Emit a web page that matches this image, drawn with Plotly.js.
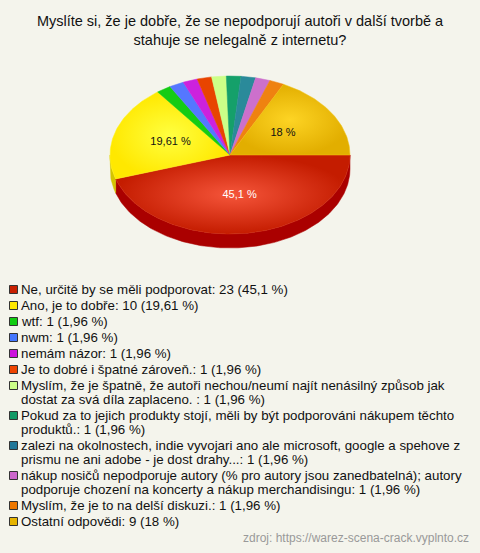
<!DOCTYPE html>
<html><head><meta charset="utf-8">
<script src="https://cdn.plot.ly/plotly-3.0.1.min.js"></script>
<style>
html,body{margin:0;padding:0;background:#f4f4ec;}
#chart{width:480px;height:553px;outline:1px solid #333;outline-offset:-1px;}
</style>
</head><body><div id="chart"></div>
<script>
const titleText = 'Myslíte si, že je dobře, že se nepodporují autoři v další tvorbě a<br>stahuje se nelegalně z internetu?';
const categories = [
  'Ne, určitě by se měli podporovat',
  'Ano, je to dobře',
  'wtf',
  'nwm',
  'nemám názor',
  'Je to dobré i špatné zároveň.',
  'Myslím, že je špatně, že autoři nechou/neumí najít nenásilný způsob jak<br>dostat za svá díla zaplaceno. ',
  'Pokud za to jejich produkty stojí, měli by být podporováni nákupem těchto<br>produktů.',
  'zalezi na okolnostech, indie vyvojari ano ale microsoft, google a spehove z<br>prismu ne ani adobe - je dost drahy...',
  'nákup nosičů nepodporuje autory (% pro autory jsou zanedbatelná); autory<br>podporuje chození na koncerty a nákup merchandisingu',
  'Myslím, že je to na delší diskuzi.',
  'Ostatní odpovědi'
];
const counts = [23, 10, 1, 1, 1, 1, 1, 1, 1, 1, 1, 9];
const percentLabels = ['45,1', '19,61', '1,96', '1,96', '1,96', '1,96', '1,96', '1,96', '1,96', '1,96', '1,96', '18'];
const sourceText = 'zdroj: https://warez-scena-crack.vyplnto.cz';

// styles
const topColors = ['#d42a0c', '#fff21a', '#14cc14', '#5577ff', '#cc22dd', '#e84400', '#ccff88', '#15a06a', '#2a8a9a', '#cc70cc', '#ef8210', '#f0c20e'];
const gradStops = {0: ['#f5553a', '#c41c00'], 1: ['#ffff40', '#ffe800'], 11: ['#fdd424', '#e2ae00']};
const sideColors = ['#aa0000', '#d4c400', '#0e9a0e', '#3f5cc4', '#9a14a8', '#b03200', '#9ccc66', '#0e784e', '#1e6874', '#9a529a', '#b8600a', '#b89200'];
const legendColors = ['#c82000', '#ffe800', '#11cc11', '#4477ff', '#cc11dd', '#ee4400', '#ccff88', '#119966', '#227799', '#cc66cc', '#ee7700', '#e6b400'];
const FONT = '"Liberation Sans", Arial, sans-serif';

const cx = 230, cy = 155, rx = 120, ry = 79, depth = 14;
const total = counts.reduce((a, b) => a + b, 0);
let acc = 0;
const arcs = counts.map(c => { const a0 = acc / total * 360; acc += c; return [a0, acc / total * 360]; });
function pt(deg, dy) { const r = deg * Math.PI / 180; return [cx + rx * Math.cos(r), cy + ry * Math.sin(r) + (dy || 0)]; }

const traces = [];
// side walls (front half only)
arcs.forEach(([a0, a1], i) => {
  const s = Math.max(a0, 0), e = Math.min(a1, 180);
  if (e <= s) return;
  const xs = [], ys = [];
  const n = Math.max(2, Math.ceil(e - s));
  for (let k = 0; k <= n; k++) { const p = pt(s + (e - s) * k / n); xs.push(p[0]); ys.push(p[1]); }
  for (let k = n; k >= 0; k--) { const p = pt(s + (e - s) * k / n, depth); xs.push(p[0]); ys.push(p[1]); }
  xs.push(xs[0]); ys.push(ys[0]);
  traces.push({type: 'scatter', x: xs, y: ys, mode: 'lines', fill: 'toself',
    fillcolor: sideColors[i], line: {width: 0.5, color: sideColors[i]},
    hoverinfo: 'skip', showlegend: false});
});
// top faces
arcs.forEach(([a0, a1], i) => {
  const xs = [cx], ys = [cy];
  const n = Math.max(2, Math.ceil(a1 - a0));
  for (let k = 0; k <= n; k++) { const p = pt(a0 + (a1 - a0) * k / n); xs.push(p[0]); ys.push(p[1]); }
  xs.push(cx); ys.push(cy);
  const tr = {type: 'scatter', x: xs, y: ys, mode: 'lines', fill: 'toself',
    fillcolor: topColors[i], line: {width: 0.5, color: topColors[i]},
    name: categories[i].replace('<br>', ' '), hoverinfo: 'name', showlegend: false};
  if (gradStops[i]) tr.fillgradient = {type: 'radial', colorscale: [[0, gradStops[i][0]], [1, gradStops[i][1]]]};
  traces.push(tr);
});
// percent labels for the big slices
const lx = [], ly = [], lt = [], lc = [];
arcs.forEach(([a0, a1], i) => {
  if (counts[i] / total < 0.1) return;
  const m = (a0 + a1) / 2 * Math.PI / 180;
  lx.push(cx + 0.52 * rx * Math.cos(m)); ly.push(cy + 0.52 * ry * Math.sin(m));
  lt.push(percentLabels[i] + ' %');
  lc.push(i === 0 ? '#ffffff' : '#111111');
});
traces.push({type: 'scatter', x: lx, y: ly, text: lt, mode: 'text', textposition: 'middle center',
  textfont: {family: FONT, size: 11, color: lc}, hoverinfo: 'skip', showlegend: false});

// legend (built from the arrays)
const shapes = [], annotations = [];
let y = 289.5;
categories.forEach((c, i) => {
  const lines = (c + ': ' + counts[i] + ' (' + percentLabels[i] + ' %)').split('<br>');
  shapes.push({type: 'rect', xref: 'x', yref: 'y', x0: 9.5, x1: 17.5, y0: y - 4, y1: y + 4,
    fillcolor: legendColors[i], line: {color: '#333', width: 1}});
  lines.forEach((ln, j) => {
    annotations.push({xref: 'x', yref: 'y', x: 18.5, y: y + j * 14, text: ln, showarrow: false,
      xanchor: 'left', yanchor: 'middle', align: 'left', font: {family: FONT, size: 13.3, color: '#111'}});
  });
  y += (lines.length - 1) * 14 + 16;
});
annotations.push({xref: 'x', yref: 'y', x: 471, y: 538, text: sourceText, showarrow: false,
  xanchor: 'right', yanchor: 'middle', font: {family: FONT, size: 12, color: '#999'}});

const layout = {
  width: 480, height: 553,
  paper_bgcolor: '#f4f4ec', plot_bgcolor: 'rgba(0,0,0,0)',
  margin: {l: 0, r: 0, t: 0, b: 0},
  title: {text: titleText, x: 0.5, xanchor: 'center', y: 0.953, yanchor: 'top',
    font: {family: FONT, size: 14.5, color: '#111'}},
  xaxis: {range: [0, 480], visible: false, fixedrange: true},
  yaxis: {range: [553, 0], visible: false, fixedrange: true},
  shapes: shapes, annotations: annotations, showlegend: false
};
Plotly.newPlot('chart', traces, layout, {displayModeBar: false, staticPlot: true});
</script>
</body></html>
